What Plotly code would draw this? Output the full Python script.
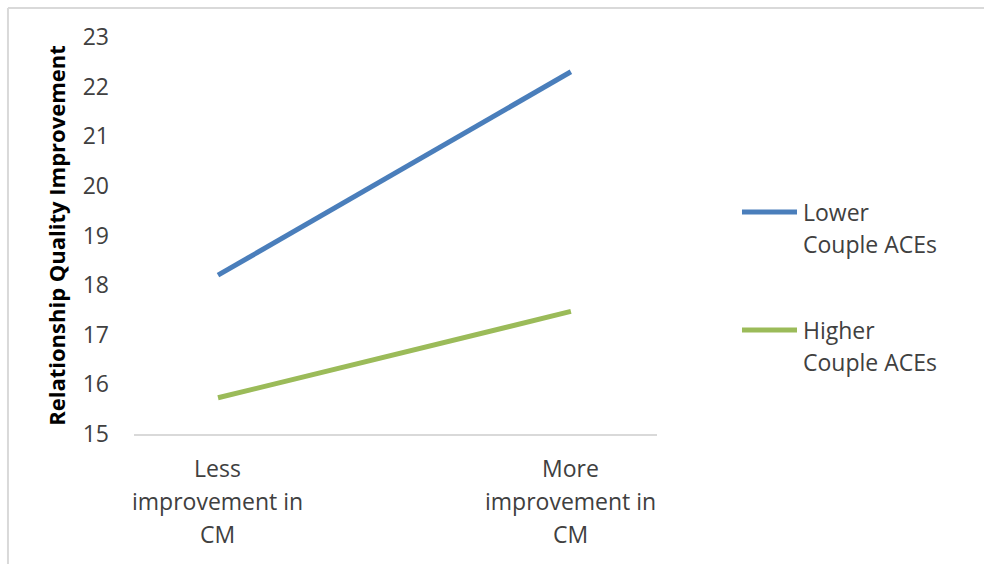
import plotly.graph_objects as go

categories = ["Less<br>improvement in<br>CM", "More<br>improvement in<br>CM"]
series_names = ["Lower<br>Couple ACEs", "Higher<br>Couple ACEs"]
lower_aces = [18.2, 22.3]
higher_aces = [15.73, 17.47]
y_ticks = [15, 16, 17, 18, 19, 20, 21, 22, 23]
y_title = "Relationship Quality Improvement"

colors = ["#4A7EBB", "#9BBB59"]
FONT = "Open Sans"
TXT = "#404040"
x_idx = list(range(len(categories)))

fig = go.Figure()
for name, vals, col in zip(series_names, [lower_aces, higher_aces], colors):
    fig.add_trace(go.Scatter(x=x_idx, y=vals, mode="lines", name=name.replace("<br>", " "),
                             showlegend=False, line=dict(color=col, width=5)))

annotations = []
shapes = []

# multi-line category labels as per-line annotations
for xi, lab in zip(x_idx, categories):
    for k, line in enumerate(lab.split("<br>")):
        annotations.append(dict(x=xi, xref="x", y=0, yref="paper", yanchor="middle",
                                yshift=-34 - 33 * k, text=line, showarrow=False,
                                font=dict(family=FONT, size=23, color=TXT)))

# legend drawn to match the original layout
legend_y = [0.5592, 0.2620]
line_gap = 0.0806
for name, col, ly in zip(series_names, colors, legend_y):
    shapes.append(dict(type="line", xref="paper", yref="paper", x0=1.1625, x1=1.2677,
                       y0=ly, y1=ly, line=dict(color=col, width=5)))
    for k, line in enumerate(name.split("<br>")):
        annotations.append(dict(x=1.2753, xref="paper", xanchor="left",
                                y=ly - k * line_gap, yref="paper", yanchor="middle",
                                text=line, showarrow=False,
                                font=dict(family=FONT, size=23, color=TXT)))

# chart border (top and left, image is cropped)
shapes += [
    dict(type="line", xref="paper", yref="paper", x0=-0.241, x1=1.7, y0=1.073, y1=1.073,
         line=dict(color="#D9D9D9", width=2)),
    dict(type="line", xref="paper", yref="paper", x0=-0.241, x1=-0.241, y0=1.073, y1=-0.4,
         line=dict(color="#D9D9D9", width=2)),
]

fig.update_layout(
    width=984, height=564,
    margin=dict(l=134, r=327, t=37, b=130),
    paper_bgcolor="white", plot_bgcolor="white",
    showlegend=False,
    font=dict(family=FONT, size=23, color=TXT),
    xaxis=dict(range=[-0.238, 1.244], showgrid=False, zeroline=False, showticklabels=False,
               showline=True, linecolor="#D9D9D9", linewidth=2, ticks=""),
    yaxis=dict(range=[15, 23], tickvals=y_ticks, showgrid=False, zeroline=False,
               showline=False, ticks="", ticklabelstandoff=24,
               tickfont=dict(family=FONT, size=23, color=TXT),
               title=dict(text=y_title, standoff=10,
                          font=dict(family=FONT, size=22, color="black", weight="bold"))),
    annotations=annotations,
    shapes=shapes,
)

fig.write_html("out.html")
